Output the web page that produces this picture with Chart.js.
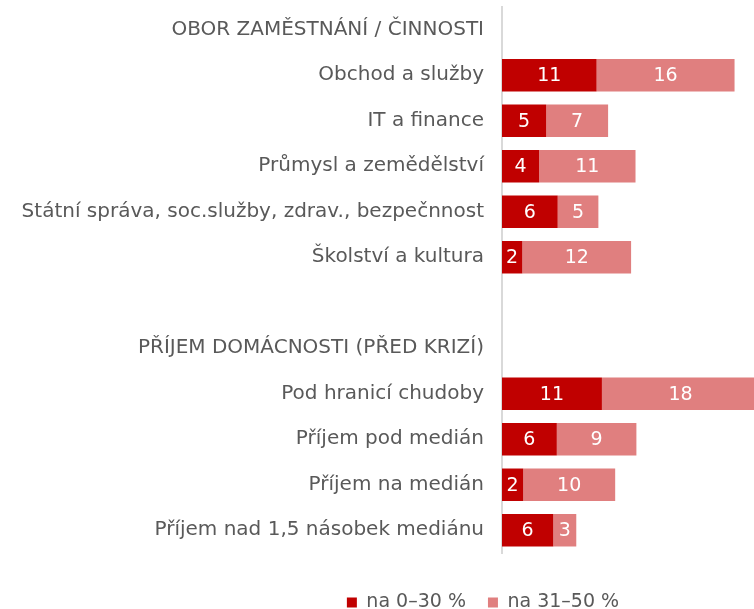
<!DOCTYPE html>
<html>
<head>
<meta charset="utf-8">
<script src="https://cdn.jsdelivr.net/npm/chart.js@4.4.1/dist/chart.umd.min.js"></script>
<style>
  html, body { margin: 0; padding: 0; background: #fff; }
  #wrap { width: 754px; height: 609px; }
</style>
</head>
<body>
<div id="wrap"><canvas id="chart"></canvas></div>
<script>
// rows, including the two group headers and an empty spacer row
const categories = [
  'OBOR ZAMĚSTNÁNÍ / ČINNOSTI',
  'Obchod a služby',
  'IT a finance',
  'Průmysl a zemědělství',
  'Státní správa, soc.služby, zdrav., bezpečnnost',
  'Školství a kultura',
  '',
  'PŘÍJEM DOMÁCNOSTI (PŘED KRIZÍ)',
  'Pod hranicí chudoby',
  'Příjem pod medián',
  'Příjem na medián',
  'Příjem nad 1,5 násobek mediánu'
];
const seriesNames = ['na 0–30 %', 'na 31–50 %'];
const share0to30 = [null, 10.7, 5.0, 4.2, 6.3, 2.3, null, null, 11.3, 6.2, 2.4, 5.8];
const share31to50 = [null, 15.6, 7.0, 10.9, 4.6, 12.3, null, null, 17.8, 9.0, 10.4, 2.6];
const axisMax = 28.5;

const fontFamily = '"DejaVu Sans", sans-serif';

// white value labels in the middle of each segment
const barValueLabels = {
  id: 'barValueLabels',
  afterDatasetsDraw(chart) {
    const ctx = chart.ctx;
    ctx.save();
    ctx.fillStyle = '#ffffff';
    ctx.font = '19px ' + fontFamily;
    ctx.textAlign = 'center';
    ctx.textBaseline = 'middle';
    chart.data.datasets.forEach((ds, i) => {
      chart.getDatasetMeta(i).data.forEach((bar, j) => {
        const v = ds.data[j];
        if (v == null) return;
        ctx.fillText(Math.round(v), (bar.base + bar.x) / 2, bar.y + 1);
      });
    });
    ctx.restore();
  }
};

// legend box is kept short so the plot reaches down to y≈553,
// then the legend itself is moved right and down like in the reference
const legendShift = {
  id: 'legendShift',
  beforeLayout(chart) {
    const lg = chart.legend;
    if (lg && !lg._shortFit) {
      const fit = lg.fit.bind(lg);
      lg.fit = function () { fit(); this.height = 56; };
      lg._shortFit = true;
    }
  },
  afterLayout(chart) {
    const lg = chart.legend;
    lg.left += 106; lg.right += 106;
    lg.top += 18; lg.bottom += 18;
  }
};

new Chart(document.getElementById('chart'), {
  type: 'bar',
  data: {
    labels: categories,
    datasets: [
      { label: seriesNames[0], data: share0to30, backgroundColor: '#c00000', borderWidth: 0 },
      { label: seriesNames[1], data: share31to50, backgroundColor: '#e07f7f', borderWidth: 0 }
    ]
  },
  plugins: [barValueLabels, legendShift],
  options: {
    indexAxis: 'y',
    responsive: true,
    maintainAspectRatio: false,
    animation: false,
    layout: { padding: { top: 7, right: 0, bottom: 0, left: 0 } },
    datasets: { bar: { barPercentage: 0.714, categoryPercentage: 1 } },
    scales: {
      x: { stacked: true, min: 0, max: axisMax, display: false },
      y: {
        stacked: true,
        grid: { display: false, drawTicks: false },
        border: { color: '#d9d9d9', width: 2 },
        ticks: { color: '#595959', font: { family: fontFamily, size: 20 }, padding: 18, autoSkip: false },
        afterFit(scale) {
          scale.width = 502;
          scale.paddingTop = 0;
          scale.paddingBottom = 0;
        }
      }
    },
    plugins: {
      legend: {
        position: 'bottom',
        labels: { boxWidth: 10, boxHeight: 10, color: '#595959', font: { family: fontFamily, size: 19 }, padding: 22 }
      },
      tooltip: { enabled: false }
    }
  }
});
</script>
</body>
</html>
